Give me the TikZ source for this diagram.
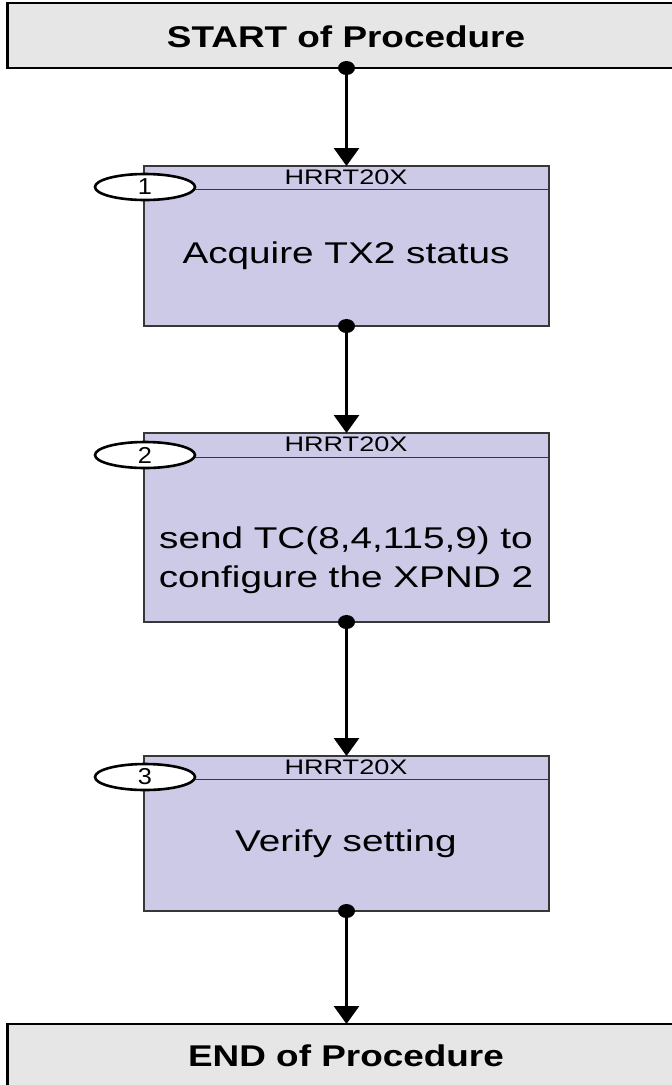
\documentclass[tikz,border=0pt]{standalone}
\usepackage{fontspec}
\setmainfont{Liberation Sans}
\usetikzlibrary{arrows.meta,shapes.geometric}
\definecolor{termfill}{RGB}{230,230,230}
\definecolor{stepfill}{RGB}{204,202,230}
\definecolor{stepline}{RGB}{55,55,55}
\begin{document}
\begin{tikzpicture}[x=1pt,y=-1pt,
  term/.style={draw=black,line width=2.6pt,fill=termfill,anchor=north west,outer sep=0pt,inner sep=0pt,minimum width=690pt,minimum height=65pt},
  stepbox/.style={draw=stepline,line width=1.2pt,fill=stepfill,anchor=north west,outer sep=0pt,inner sep=0pt,minimum width=405pt},
  numoval/.style={draw=black,line width=2.6pt,fill=white,ellipse,minimum width=100pt,minimum height=26pt,inner sep=0pt,font=\fontsize{23}{24}\selectfont},
  hdr/.style={draw=stepline,line width=1pt},
  hdrtext/.style={inner sep=0pt,font=\fontsize{21}{22}\selectfont},
  bodytext/.style={inner sep=0pt,align=center,font=\fontsize{30}{39}\selectfont},
  termtext/.style={inner sep=0pt,font=\fontsize{30}{32}\selectfont\bfseries},
  conn/.style={line width=2.9pt,-{Triangle[width=25pt,length=18pt]}},
  dot/.style={fill=black}
]
\useasboundingbox (0,0) rectangle (672,1085);
\clip (0,0) rectangle (672,1085);

% terminals
\node[term] (start) at (7.5,3) {};
\node[termtext] (starttxt) at (346,37) {\scalebox{1.23}[1]{START of Procedure}};
\node[term,minimum height=80pt] (end) at (7.5,1024) {};
\node[termtext] (endtxt) at (346,1056) {\scalebox{1.23}[1]{END of Procedure}};

% step 1
\node[stepbox,minimum height=160pt] (s1) at (144,166) {};
\draw[hdr] ([yshift=-23pt]s1.north west) -- ([yshift=-23pt]s1.north east);
\node[hdrtext] (h1) at (346,177) {\scalebox{1.29}[1]{HRRT20X}};
\node[numoval] (o1) at (145,187) {\scalebox{1.1}[1]{1}};
\node[bodytext] (b1) at (346,256) {\scalebox{1.29}[1]{Acquire TX2 status}};

% step 2
\node[stepbox,minimum height=189pt] (s2) at (144,433) {};
\draw[hdr] ([yshift=-24pt]s2.north west) -- ([yshift=-24pt]s2.north east);
\node[hdrtext] (h2) at (346,444) {\scalebox{1.29}[1]{HRRT20X}};
\node[numoval] (o2) at (145,455) {\scalebox{1.1}[1]{2}};
\node[bodytext] (b2) at (346,560) {\scalebox{1.29}[1]{send TC(8,4,115,9) to}\\\scalebox{1.29}[1]{configure the XPND 2}};

% step 3
\node[stepbox,minimum height=155pt] (s3) at (144,756) {};
\draw[hdr] ([yshift=-23pt]s3.north west) -- ([yshift=-23pt]s3.north east);
\node[hdrtext] (h3) at (346,767) {\scalebox{1.29}[1]{HRRT20X}};
\node[numoval] (o3) at (145,777) {\scalebox{1.1}[1]{3}};
\node[bodytext] (b3) at (346,844) {\scalebox{1.29}[1]{Verify setting}};

% connectors
\draw[conn] (start.south -| s1.north) -- (s1.north);
\draw[conn] (s1.south) -- (s2.north);
\draw[conn] (s2.south) -- (s3.north);
\draw[conn] (s3.south) -- (end.north -| s3.south);

% dots
\fill[dot] (start.south -| s1.north) ellipse [x radius=8.5pt, y radius=7pt];
\fill[dot] (s1.south) ellipse [x radius=8.5pt, y radius=7pt];
\fill[dot] (s2.south) ellipse [x radius=8.5pt, y radius=7pt];
\fill[dot] (s3.south) ellipse [x radius=8.5pt, y radius=7pt];
\end{tikzpicture}
\end{document}
